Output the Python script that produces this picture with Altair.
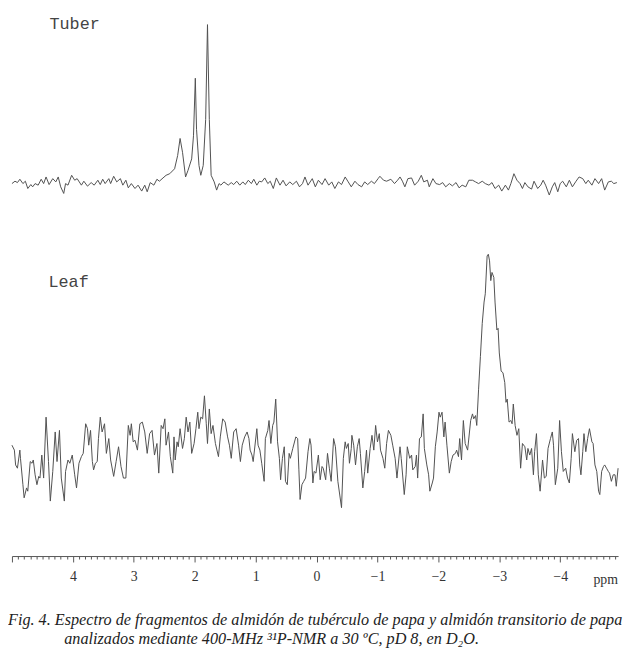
import altair as alt
import pandas as pd

# ---- data (ppm, relative intensity) ----
tuber_points = [
    (5.00, -1.7), (4.95, 0.7), (4.91, -0.7), (4.87, 2.7), (4.82, -1.7), (4.78, 0.7), (4.74, -6.7),
    (4.69, -2.7), (4.66, -5), (4.62, -1.7), (4.57, -3.3), (4.52, 2.7), (4.48, -1.7), (4.44, 5),
    (4.39, -2.7), (4.33, 3.3), (4.28, 0), (4.24, 5), (4.20, -5), (4.15, -11.7), (4.12, -1.7),
    (4.08, -3.3), (4.02, 6.7), (3.97, 1.7), (3.93, 3.3), (3.86, -3.3), (3.82, 0.7), (3.76, -4.3),
    (3.70, -0.7), (3.65, -3.3), (3.59, 1.7), (3.55, -2.7), (3.51, 2.7), (3.47, -1.7), (3.41, 3.3),
    (3.38, -1.7), (3.33, 5.7), (3.28, 0), (3.22, 3.3), (3.18, -3.3), (3.13, 1.7), (3.09, -6),
    (3.04, -1.7), (2.98, -6.7), (2.93, -3.3), (2.87, -9.3), (2.82, -3.3), (2.78, -10), (2.73, -0.7),
    (2.67, -3.3), (2.62, 2.7), (2.58, 0.7), (2.52, 4), (2.47, 6.7), (2.41, 8.3), (2.33, 13.3),
    (2.28, 26.7), (2.24, 44), (2.20, 30), (2.15, 5), (2.11, 11.7), (2.05, 23.3), (2.02, 46.7),
    (1.99, 105), (1.97, 53.3), (1.93, 16.7), (1.90, 6.7), (1.86, 16.7), (1.82, 63.3), (1.79, 159.3),
    (1.76, 63.3), (1.73, 6.7), (1.68, 0), (1.64, -8.3), (1.60, -1.7), (1.57, -3.3), (1.52, 0),
    (1.45, -3.3), (1.40, -0.7), (1.36, -2.7), (1.31, 0.7), (1.26, -3.3), (1.21, 0), (1.17, -2.7),
    (1.12, 1.7), (1.07, -1.7), (1.03, 2.7), (0.98, -3.3), (0.94, 0.7), (0.90, 0), (0.85, 4),
    (0.80, -1.7), (0.76, 0.7), (0.71, -6.7), (0.66, 4), (0.60, -3.3), (0.55, 1.7), (0.50, -4),
    (0.44, 0), (0.39, -2.7), (0.33, 0.7), (0.28, -5), (0.23, -1.7), (0.19, 5), (0.14, -3.3),
    (0.07, 3.3), (0.02, -5), (-0.03, 1.7), (-0.09, -2.7), (-0.14, 3.3), (-0.20, -3.3), (-0.25, 0),
    (-0.30, -6.7), (-0.36, 0), (-0.41, -2.7), (-0.47, 5), (-0.52, 0), (-0.57, -5), (-0.63, 0.7),
    (-0.68, -2.7), (-0.74, -5), (-0.79, 0), (-0.84, -2.7), (-0.90, 0.7), (-0.95, -1.7), (-1.01, 3.3),
    (-1.04, 5.7), (-1.10, 1.7), (-1.15, 0.7), (-1.22, 2.7), (-1.28, -1.7), (-1.33, 1.7), (-1.37, 5),
    (-1.41, 0.7), (-1.45, -5), (-1.50, 3.3), (-1.56, 4), (-1.61, -3.3), (-1.67, 0.7), (-1.72, 6.7),
    (-1.76, 0), (-1.82, 1.7), (-1.85, -5), (-1.91, 3.3), (-1.96, -1.7), (-2.02, -2.7), (-2.07, -0.7),
    (-2.12, -5), (-2.18, -1.7), (-2.23, -4), (-2.29, -0.7), (-2.34, -6), (-2.39, -3.3), (-2.45, -5),
    (-2.50, 1.7), (-2.56, 1.7), (-2.61, 0), (-2.66, -1.7), (-2.72, 0.7), (-2.77, -1.7), (-2.83, -3.3),
    (-2.88, -0.7), (-2.93, -6.7), (-2.99, -3.3), (-3.04, -9.3), (-3.10, -3.3), (-3.15, -8.3),
    (-3.19, -1.7), (-3.24, 8.3), (-3.29, 1.7), (-3.34, -1.7), (-3.38, -6.7), (-3.42, -0.7),
    (-3.47, -5), (-3.53, -7.3), (-3.57, 0.7), (-3.63, -6.7), (-3.68, -3.3), (-3.72, 1.7),
    (-3.76, -3.3), (-3.82, -13.3), (-3.87, -5), (-3.91, -0.7), (-3.96, -10), (-4.00, -1.7),
    (-4.04, 0.7), (-4.10, -5), (-4.15, 1.7), (-4.20, -5), (-4.26, 0.7), (-4.31, 5), (-4.37, 3.3),
    (-4.42, -1.7), (-4.46, 1.7), (-4.52, -3.3), (-4.57, 3.3), (-4.63, -1.7), (-4.68, 3.3),
    (-4.73, -8.3), (-4.79, 0), (-4.84, 0.7), (-4.88, -1.7), (-4.93, -0.7),
]

leaf_points = [
    (5.00, 13.3), (4.96, 8.3), (4.94, -6.7), (4.91, -10), (4.87, 8.3), (4.86, 0), (4.82, -26.7),
    (4.80, -40), (4.76, -30), (4.74, -33.3), (4.70, -3.3), (4.67, -5), (4.65, -1.7), (4.62, -16.7),
    (4.59, -26.7), (4.56, -18.3), (4.54, -20), (4.51, 3.3), (4.48, -20), (4.44, 41.7), (4.40, -3.3),
    (4.37, -43.3), (4.33, -13.3), (4.29, 26.7), (4.26, -3.3), (4.22, 28.3), (4.19, -20),
    (4.14, -43.3), (4.12, -13.3), (4.08, -1.7), (4.05, -5), (4.01, 3.3), (3.97, -16.7), (3.94, -30),
    (3.90, -5), (3.86, 1.7), (3.83, 5), (3.79, 35), (3.76, 30), (3.74, 13.3), (3.71, 28.3),
    (3.68, -3.3), (3.66, -11.7), (3.63, -5), (3.60, -3.3), (3.58, 20), (3.55, 41.7), (3.52, 26.7),
    (3.48, 35), (3.45, 5), (3.41, 20), (3.38, -1.7), (3.33, -18.3), (3.29, -3.3), (3.25, 11.7),
    (3.21, -8.3), (3.17, -20), (3.13, -20), (3.09, 33.3), (3.06, 23.3), (3.04, 35), (3.01, 16.7),
    (2.98, 18.3), (2.94, 8.3), (2.90, 35), (2.86, 36.7), (2.82, 26.7), (2.78, 5), (2.74, 25),
    (2.70, 28.3), (2.66, 3.3), (2.62, 15), (2.59, -15), (2.55, 33.3), (2.52, 30), (2.49, 40),
    (2.47, 13.3), (2.43, 26.7), (2.40, 1.7), (2.36, -15), (2.34, 21.7), (2.32, -1.7), (2.29, 16.7),
    (2.27, 11.7), (2.24, 30), (2.20, 10), (2.17, 20), (2.14, 41.7), (2.11, 26.7), (2.08, 36.7),
    (2.05, 5), (2.01, 15), (1.98, 30), (1.95, 46.7), (1.93, 30), (1.90, 41.7), (1.87, 40),
    (1.84, 63.3), (1.81, 35), (1.79, 15), (1.76, 50), (1.73, 25), (1.70, 33.3), (1.66, 15),
    (1.61, 1.7), (1.58, 21.7), (1.54, 40), (1.50, 36.7), (1.46, 21.7), (1.43, 13.3), (1.40, 0),
    (1.36, 26.7), (1.32, 30), (1.28, 13.3), (1.25, -3.3), (1.22, 13.3), (1.18, 21.7), (1.14, 26.7),
    (1.11, 20), (1.09, 8.3), (1.06, 3.3), (1.04, -3.3), (0.98, 30), (0.96, 13.3), (0.93, 8.3),
    (0.90, -5), (0.86, -23.3), (0.84, 20), (0.80, 28.3), (0.78, 38.3), (0.75, 15), (0.72, 33.3),
    (0.70, 36.7), (0.67, 60), (0.64, 16.7), (0.61, 0), (0.59, -21.7), (0.56, 0), (0.53, 11.7),
    (0.51, -23.3), (0.48, -26.7), (0.45, 5), (0.43, 0), (0.39, 10), (0.34, 21.7), (0.31, 20),
    (0.29, -11.7), (0.27, -41.7), (0.24, -26.7), (0.21, -23.3), (0.18, -20), (0.14, 6.7),
    (0.11, 20), (0.09, 13.3), (0.06, -25), (0.04, -13.3), (0.01, -15), (-0.03, 3.3),
    (-0.06, -21.7), (-0.09, -8.3), (-0.11, -10), (-0.15, -21.7), (-0.18, 5), (-0.21, -10),
    (-0.24, -23.3), (-0.28, 20), (-0.31, 11.7), (-0.35, -23.3), (-0.41, -50), (-0.44, 0),
    (-0.47, 16.7), (-0.49, 10), (-0.52, 15), (-0.54, -5), (-0.57, 10), (-0.58, 23.3), (-0.61, 13.3),
    (-0.64, -6.7), (-0.67, 11.7), (-0.70, 20), (-0.72, 5), (-0.76, -30), (-0.79, -13.3),
    (-0.82, 8.3), (-0.84, -15), (-0.88, 10), (-0.91, 23.3), (-0.94, 8.3), (-0.97, 33.3),
    (-1.00, 16.7), (-1.03, 25), (-1.05, 8.3), (-1.09, 0), (-1.12, -10), (-1.15, 15), (-1.18, 28.3),
    (-1.22, 23.3), (-1.25, 13.3), (-1.29, 0), (-1.32, -20), (-1.37, 11.7), (-1.39, 0),
    (-1.44, -36.7), (-1.47, -16.7), (-1.49, 11.7), (-1.53, 0), (-1.56, 3.3), (-1.58, -11.7),
    (-1.62, -8.3), (-1.64, 3.3), (-1.66, -20), (-1.69, 20), (-1.72, 21.7), (-1.75, 45), (-1.77, 10),
    (-1.81, -6.7), (-1.84, -16.7), (-1.86, -33.3), (-1.90, -25), (-1.92, -20), (-1.95, 11.7),
    (-1.98, 26.7), (-2.01, 46.7), (-2.03, 41.7), (-2.06, 46.7), (-2.09, 21.7), (-2.11, 36.7),
    (-2.14, 13.3), (-2.18, -15), (-2.21, -3.3), (-2.24, 3.3), (-2.28, 5), (-2.30, 8.3),
    (-2.33, 1.7), (-2.35, 20), (-2.38, -1.7), (-2.41, 38.3), (-2.44, 15), (-2.48, 8.3),
    (-2.53, 38.3), (-2.56, 45), (-2.58, 40), (-2.61, 43.3), (-2.63, 33.3), (-2.66, 70),
    (-2.69, 103.3), (-2.72, 136.7), (-2.75, 158.3), (-2.77, 166.7), (-2.80, 205), (-2.82, 206.7),
    (-2.84, 200), (-2.86, 180), (-2.88, 188.3), (-2.91, 183.3), (-2.93, 158.3), (-2.96, 130),
    (-2.98, 131.7), (-3.00, 106.7), (-3.03, 88.3), (-3.06, 86.7), (-3.09, 76.7), (-3.11, 56.7),
    (-3.13, 60), (-3.16, 36.7), (-3.19, 38.3), (-3.21, 35), (-3.23, 55), (-3.26, 33.3),
    (-3.29, 23.3), (-3.32, 30), (-3.35, -10), (-3.38, 15), (-3.42, 11.7), (-3.45, -1.7),
    (-3.47, 10), (-3.50, 3.3), (-3.53, 10), (-3.56, -16.7), (-3.58, 6.7), (-3.61, 25),
    (-3.64, -16.7), (-3.67, -33.3), (-3.71, -1.7), (-3.74, -20), (-3.77, -18.3), (-3.80, 10),
    (-3.84, 20), (-3.87, 26.7), (-3.89, 13.3), (-3.92, -26.7), (-3.96, -10), (-3.99, 38.3),
    (-4.02, 6.7), (-4.05, -13.3), (-4.09, -10), (-4.12, -20), (-4.15, -25), (-4.18, 0), (-4.20, 25),
    (-4.24, 6.7), (-4.27, 18.3), (-4.30, 20), (-4.32, -6.7), (-4.34, -16.7), (-4.37, 6.7),
    (-4.39, 25), (-4.42, 6.7), (-4.45, 20), (-4.48, 30), (-4.52, 16.7), (-4.54, 15), (-4.57, -6.7),
    (-4.60, -13.3), (-4.63, -33.3), (-4.65, -36.7), (-4.68, -13.3), (-4.71, -8.3), (-4.73, -6.7),
    (-4.76, -10), (-4.79, -13.3), (-4.81, -15), (-4.84, -23.3), (-4.87, -16.7), (-4.90, -16.7),
    (-4.92, -28.3), (-4.95, -10),
]

trace_names = ["Tuber", "Leaf"]
trace_offsets = [379, 99]          # vertical stacking of the two spectra
major_ticks = [4, 3, 2, 1, 0, -1, -2, -3, -4]
tick_values = [round(5.0 - 0.1 * i, 1) for i in range(100)]
axis_unit = "ppm"
caption_lines = [
    "Fig. 4. Espectro de fragmentos de almidón de tubérculo de papa y almidón transitorio de papa",
    "analizados mediante 400-MHz \u00b3\u00b9P-NMR a 30 \u00baC, pD 8, en D\u2082O.",
]

# ---- build table ----
frames = []
for name, off, pts in zip(trace_names, trace_offsets, [tuber_points, leaf_points]):
    frames.append(pd.DataFrame({
        "ppm": [p[0] for p in pts],
        "intensity": [p[1] for p in pts],
        "trace": name,
        "offset": off,
    }))
df = pd.concat(frames, ignore_index=True)

W, H = 614, 551
GRAY = "#505050"

x_scale = alt.Scale(domain=[-4.95, 5.0], reverse=True, nice=False, zero=False)
y_scale = alt.Scale(domain=[0, H], nice=False, zero=False)

is_major = "abs(datum.value - round(datum.value)) < 0.001"
x_axis = alt.Axis(
    values=tick_values,
    title=None,
    grid=False,
    domainColor="#555555",
    tickColor="#555555",
    tickWidth=1,
    tickSize={"condition": {"test": is_major, "value": 6}, "value": 3},
    labelExpr=f"{is_major} && abs(datum.value) < 4.5 ? format(round(datum.value), 'd') : ''",
    labelFont="Liberation Serif",
    labelFontSize=14,
    labelColor="#333333",
    labelPadding=8,
    labelOverlap=False,
    labelFlush=False,
)

lines = alt.Chart(df).transform_calculate(
    yv="datum.intensity + datum.offset"
).mark_line(color=GRAY, strokeWidth=1).encode(
    x=alt.X("ppm:Q", scale=x_scale, axis=x_axis),
    y=alt.Y("yv:Q", scale=y_scale, axis=None),
    detail="trace:N",
)


def text_layer(txt, x, y, **kw):
    return alt.Chart(pd.DataFrame({"t": [txt]})).mark_text(
        align="left", baseline="alphabetic", **kw
    ).encode(x=alt.value(x), y=alt.value(y), text="t:N")


tuber_lbl = text_layer(trace_names[0], 38, 17, font="Liberation Mono", fontSize=17, color="#444444")
leaf_lbl = text_layer(trace_names[1], 37, 278.5, font="Liberation Mono", fontSize=17, color="#444444")
ppm_lbl = text_layer(axis_unit, 589, 579, font="Liberation Serif", fontSize=14, color="#333333")
cap1 = text_layer(caption_lines[0], -4, 621, font="Liberation Serif", fontSize=16.4,
                  fontStyle="italic", color="#222222")
cap2 = text_layer(caption_lines[1], 53, 640, font="Liberation Serif", fontSize=16.4,
                  fontStyle="italic", color="#222222")

chart = alt.layer(lines, tuber_lbl, leaf_lbl, ppm_lbl, cap1, cap2).properties(
    width=W,
    height=H,
    autosize=alt.AutoSizeParams(type="none"),
    padding={"left": 4, "top": 0, "right": 7, "bottom": 90},
    background="white",
).configure_view(stroke=None)

chart.save("out.html", embed_options={"renderer": "svg", "actions": False})
